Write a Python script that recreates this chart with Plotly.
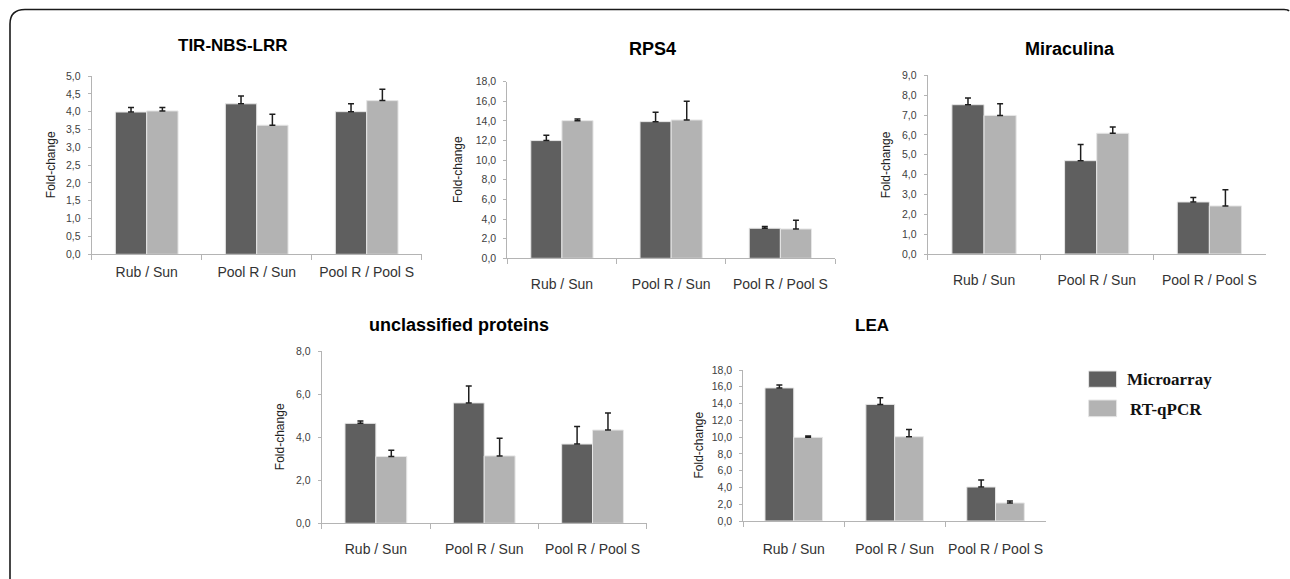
import plotly.graph_objects as go

W, H = 1290, 579

categories = ["Rub / Sun", "Pool R / Sun", "Pool R / Pool S"]
series_names = ["Microarray", "RT-qPCR"]

tir_micro = [3.99, 4.22, 4.00]
tir_micro_err = [0.13, 0.22, 0.22]
tir_qpcr = [4.02, 3.62, 4.31]
tir_qpcr_err = [0.10, 0.31, 0.32]

rps4_micro = [12.0, 13.93, 3.06]
rps4_micro_err = [0.54, 0.95, 0.17]
rps4_qpcr = [14.03, 14.10, 2.99]
rps4_qpcr_err = [0.17, 1.90, 0.88]

mir_micro = [7.52, 4.70, 2.62]
mir_micro_err = [0.34, 0.81, 0.22]
mir_qpcr = [6.98, 6.08, 2.42]
mir_qpcr_err = [0.59, 0.32, 0.82]

unc_micro = [4.64, 5.59, 3.68]
unc_micro_err = [0.11, 0.79, 0.82]
unc_qpcr = [3.10, 3.13, 4.33]
unc_qpcr_err = [0.29, 0.82, 0.79]

lea_micro = [15.86, 13.90, 4.05]
lea_micro_err = [0.34, 0.80, 0.84]
lea_qpcr = [9.97, 10.05, 2.15]
lea_qpcr_err = [0.16, 0.85, 0.23]

titles = ["TIR-NBS-LRR", "RPS4", "Miraculina", "unclassified proteins", "LEA"]
y_title = "Fold-change"

DARK = "#5f5f5f"
LIGHT = "#b3b3b3"
AXC = "#b4b4b4"
SANS = "Liberation Sans, Arial, sans-serif"
SERIF = "Liberation Serif, Times New Roman, serif"

panels = [
    dict(micro=tir_micro, me=tir_micro_err, qpcr=tir_qpcr, qe=tir_qpcr_err,
         ymax=5, dtick=0.5, px=(91.7, 421.7), py=(76, 254.3), title_xy=(233, 45), tsize=17,
         ytx=51, lab_y=271.7),
    dict(micro=rps4_micro, me=rps4_micro_err, qpcr=rps4_qpcr, qe=rps4_qpcr_err,
         ymax=18, dtick=2, px=(507.3, 835), py=(81.7, 258.3), title_xy=(652.5, 48.5), tsize=18,
         ytx=458, lab_y=284),
    dict(micro=mir_micro, me=mir_micro_err, qpcr=mir_qpcr, qe=mir_qpcr_err,
         ymax=9, dtick=1, px=(927.7, 1265.7), py=(75.3, 254), title_xy=(1070, 49), tsize=18,
         ytx=885.7, lab_y=280),
    dict(micro=unc_micro, me=unc_micro_err, qpcr=unc_qpcr, qe=unc_qpcr_err,
         ymax=8, dtick=2, px=(321.7, 646.7), py=(351, 523.3), title_xy=(459, 325), tsize=18,
         ytx=280, lab_y=549),
    dict(micro=lea_micro, me=lea_micro_err, qpcr=lea_qpcr, qe=lea_qpcr_err,
         ymax=18, dtick=2, px=(743.3, 1046), py=(370, 521), title_xy=(872, 325), tsize=17,
         ytx=698, lab_y=548.3),
]

XFS = 14  # x tick font size
fig = go.Figure()
annotations = []
layout_axes = {}

for i, p in enumerate(panels):
    n = "" if i == 0 else str(i + 1)
    xa, ya = "x" + n, "y" + n
    for vals, errs, name, col in [(p["micro"], p["me"], series_names[0], DARK),
                                  (p["qpcr"], p["qe"], series_names[1], LIGHT)]:
        fig.add_trace(go.Bar(
            x=categories, y=vals, name=name, xaxis=xa, yaxis=ya,
            marker=dict(color=col, line=dict(color="#e6e6e6", width=1)),
            error_y=dict(type="data", symmetric=False, array=errs, arrayminus=[0] * len(errs),
                         color="#1e1e1e", thickness=1.5, width=3),
            showlegend=False,
        ))
    x0, x1 = p["px"]
    yt, yb = p["py"]
    stand = max(0, (p["lab_y"] - yb) - 5 - XFS * 0.55)
    layout_axes["xaxis" + n] = dict(
        domain=[x0 / W, x1 / W], anchor=ya, type="category", automargin=False,
        showline=True, linecolor=AXC, linewidth=1, tickangle=0,
        ticks="outside", tickson="boundaries", ticklen=5, tickcolor=AXC,
        tickfont=dict(family=SANS, size=XFS, color="#333333"),
        ticklabelstandoff=round(stand), showgrid=False, zeroline=False, fixedrange=True,
    )
    layout_axes["yaxis" + n] = dict(
        domain=[1 - yb / H, 1 - yt / H], anchor=xa, range=[0, p["ymax"]], automargin=False,
        dtick=p["dtick"], tick0=0, tickformat=".1f",
        showline=True, linecolor=AXC, linewidth=1,
        ticks="outside", ticklen=3, tickcolor=AXC, ticklabelstandoff=5,
        tickfont=dict(family=SANS, size=10.5, color="#404040"),
        showgrid=False, zeroline=False, fixedrange=True,
    )
    tx, ty = p["title_xy"]
    annotations.append(dict(
        text="<b>%s</b>" % titles[i], x=tx / W, y=1 - ty / H, xref="paper", yref="paper",
        showarrow=False, xanchor="center", yanchor="middle",
        font=dict(family=SANS, size=p["tsize"], color="#000000"),
    ))
    annotations.append(dict(
        text=y_title, x=p["ytx"] / W, y=1 - ((yt + yb) / 2) / H, xref="paper", yref="paper",
        showarrow=False, xanchor="center", yanchor="middle", textangle=-90,
        font=dict(family=SANS, size=12, color="#222222"),
    ))

# legend drawn as swatches + labels
shapes = []
legend_items = [(series_names[0], DARK, (371, 387.3), 1124.7, 379.5),
                (series_names[1], LIGHT, (400, 416.7), 1128, 409.5)]
for name, col, (sy0, sy1), tx, ty in legend_items:
    shapes.append(dict(type="rect", xref="paper", yref="paper",
                       x0=1088.6 / W, x1=1116.6 / W, y0=1 - sy1 / H, y1=1 - sy0 / H,
                       fillcolor=col, line=dict(color="#e6e6e6", width=1)))
    annotations.append(dict(
        text="<b>%s</b>" % name, x=tx / W, y=1 - ty / H, xref="paper", yref="paper",
        showarrow=False, xanchor="left", yanchor="middle",
        font=dict(family=SERIF, size=17, color="#111111"),
    ))

# figure frame: left edge + rounded top-left corner + top edge
def P(x, y):
    return "%.5f,%.5f" % (x / W, 1 - y / H)

frame = ("M" + P(10, 580) + " L" + P(10, 24) + " Q" + P(10, 9.5) + " " + P(25, 9.5)
         + " L" + P(1284, 9.5) + " Q" + P(1288, 9.5) + " " + P(1289, 11))
shapes.append(dict(type="path", xref="paper", yref="paper", path=frame,
                   line=dict(color="#1a1a1a", width=1.6)))

fig.update_layout(
    width=W, height=H, margin=dict(l=0, r=0, t=0, b=0, autoexpand=False),
    paper_bgcolor="white", plot_bgcolor="white",
    barmode="group", bargap=0.43, bargroupgap=0,
    separators=",.",
    annotations=annotations, shapes=shapes,
    font=dict(family=SANS),
    **layout_axes,
)

fig.write_html("out.html", config={"displayModeBar": False},
               post_script="document.body.style.margin='0px';document.body.style.overflow='hidden';")
